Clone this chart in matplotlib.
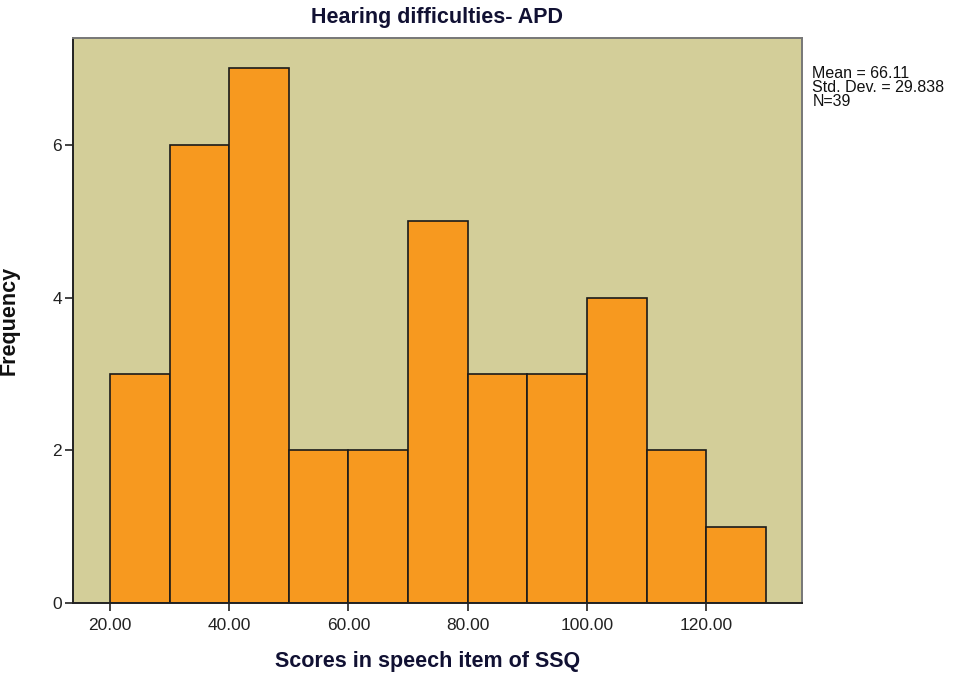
import matplotlib.pyplot as plt

plt.rcParams['font.family'] = ['Liberation Sans', 'DejaVu Sans']

# histogram of speech-item scores, bin width 10
bin_left = [20, 30, 40, 50, 60, 70, 80, 90, 100, 110, 120]
counts = [3, 6, 7, 2, 2, 5, 3, 3, 4, 2, 1]
x_ticks = [20, 40, 60, 80, 100, 120]
y_ticks = [0, 2, 4, 6]
stats = ["Mean = 66.11", "Std. Dev. = 29.838", "N=39"]

fig = plt.figure(figsize=(9.74, 6.77), dpi=100)
ax = fig.add_axes([0.075, 0.109, 0.748, 0.835])
ax.set_facecolor('#d3ce99')

ax.bar(bin_left, counts, width=10, align='edge', color='#f7991f',
       edgecolor='#1a1a1a', linewidth=1.2, zorder=2)

ax.set_xlim(13.8, 136.0)
ax.set_ylim(0, 7.4)
ax.set_xticks(x_ticks)
ax.set_xticklabels([f"{v:.2f}" for v in x_ticks])
ax.set_yticks(y_ticks)
ax.tick_params(axis='both', direction='out', length=6, width=1.2,
               labelsize=12.5, labelcolor='#222222', color='#222222')
ax.tick_params(axis='x', pad=5)
ax.tick_params(axis='y', pad=2)

for s in ['left', 'bottom']:
    ax.spines[s].set_color('#222222')
    ax.spines[s].set_linewidth(1.4)
for s in ['top', 'right']:
    ax.spines[s].set_color('#777777')
    ax.spines[s].set_linewidth(1.4)

ax.set_title("Hearing difficulties- APD", fontsize=15.5, fontweight='bold',
             color='#111133', pad=11)
ax.set_xlabel("Scores in speech item of SSQ", fontsize=15.5, fontweight='bold',
              color='#111133')
ax.xaxis.set_label_coords(0.486, -0.084)
ax.set_ylabel("Frequency", fontsize=15.5, fontweight='bold', color='#111111')
ax.yaxis.set_label_coords(-0.073, 0.5)

fig.text(0.834, 0.903, "\n".join(stats), fontsize=11.5, va='top', ha='left',
         color='#111111', linespacing=0.92)

fig.savefig("out.png", dpi=100)
